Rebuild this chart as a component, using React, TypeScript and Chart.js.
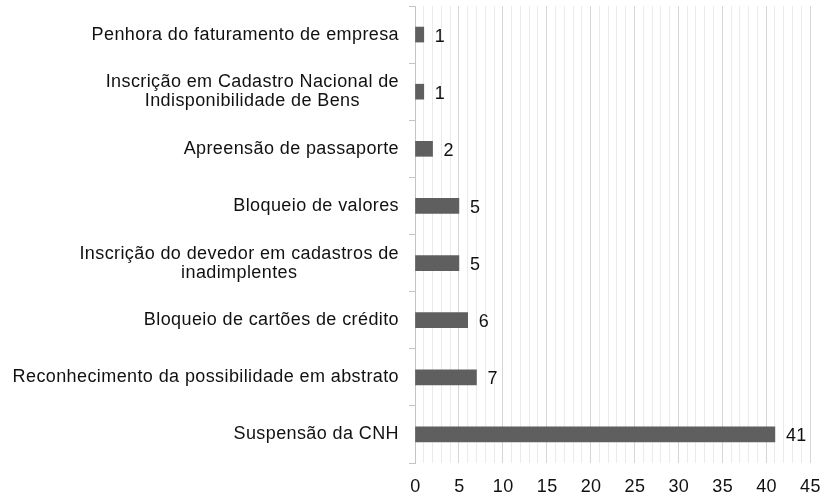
import React, { useEffect, useRef } from 'react';
import { Chart, registerables } from 'chart.js';

Chart.register(...registerables);

const categories: (string | string[])[] = [
  'Penhora do faturamento de empresa',
  ['Inscrição em Cadastro Nacional de', 'Indisponibilidade de Bens'],
  'Apreensão de passaporte',
  'Bloqueio de valores',
  ['Inscrição do devedor em cadastros de', 'inadimplentes'],
  'Bloqueio de cartões de crédito',
  'Reconhecimento da possibilidade em abstrato',
  'Suspensão da CNH',
];
const values = [1, 1, 2, 5, 5, 6, 7, 41];
const axisMin = 0;
const axisMax = 45;
const minorStep = 1;
const majorStep = 5;
const tickLabels = ['0', '5', '10', '15', '20', '25', '30', '35', '40', '45'];

const FONT_FAMILY = "'Liberation Sans', Arial, sans-serif";
const FONT_SIZE = 18;
const LETTER_SPACING = '0.4px';
const TEXT_COLOR = '#111111';
const BAR_COLOR = '#5f5f5f';
const AXIS_COLOR = '#c4c4c4';
const MAJOR_GRID = '#d6d6d6';
const MINOR_GRID = '#ebebeb';

const textPlugin = {
  id: 'customText',
  afterDatasetsDraw(chart: any) {
    const ctx = chart.ctx as CanvasRenderingContext2D;
    const xs = chart.scales.x;
    const ys = chart.scales.y;
    ctx.save();
    (ctx as any).letterSpacing = LETTER_SPACING;
    ctx.font = `${FONT_SIZE}px ${FONT_FAMILY}`;
    ctx.fillStyle = TEXT_COLOR;
    ctx.textBaseline = 'alphabetic';
    const labelRight = chart.chartArea.left - 16;
    const lineH = 19;
    categories.forEach((cat, i) => {
      const cy = ys.getPixelForValue(i);
      const lines = Array.isArray(cat) ? cat : [cat];
      const widths = lines.map((l) => ctx.measureText(l).width);
      const widest = Math.max(...widths);
      const cx = labelRight - widest / 2;
      const startBase = cy + 5 - ((lines.length - 1) * lineH) / 2;
      lines.forEach((l, k) => {
        ctx.textAlign = lines.length > 1 ? 'center' : 'right';
        ctx.fillText(l, lines.length > 1 ? cx : labelRight, startBase + k * lineH);
      });
    });
    ctx.textAlign = 'left';
    values.forEach((v, i) => {
      const cy = ys.getPixelForValue(i);
      const x = xs.getPixelForValue(v);
      ctx.fillText(String(v), x + 11, cy + 7);
    });
    ctx.textAlign = 'center';
    const base = chart.chartArea.bottom + 29;
    tickLabels.forEach((t) => {
      const x = xs.getPixelForValue(Number(t));
      ctx.fillText(t, x + 0.5, base);
    });
    ctx.restore();
  },
};

export default function App() {
  const canvasRef = useRef<HTMLCanvasElement | null>(null);

  useEffect(() => {
    if (!canvasRef.current) return;
    const chart = new Chart(canvasRef.current, {
      type: 'bar',
      data: {
        labels: categories as any,
        datasets: [
          {
            data: values,
            backgroundColor: BAR_COLOR,
            borderWidth: 0,
            barThickness: 15,
          },
        ],
      },
      options: {
        indexAxis: 'y',
        animation: false,
        responsive: true,
        maintainAspectRatio: false,
        layout: { padding: { top: 6, right: 14, left: 0, bottom: 0 } },
        plugins: {
          legend: { display: false },
          tooltip: { enabled: false },
        },
        scales: {
          x: {
            type: 'linear',
            min: axisMin,
            max: axisMax,
            border: { display: false },
            grid: {
              drawTicks: false,
              color: (c: any) =>
                c.tick && c.tick.value % majorStep === 0 ? MAJOR_GRID : MINOR_GRID,
              lineWidth: 1,
            },
            ticks: {
              stepSize: minorStep,
              autoSkip: false,
              maxRotation: 0,
              padding: 0,
              display: false,
            },
            afterFit: (s: any) => {
              s.height = 33;
            },
          },
          y: {
            type: 'category',
            border: { display: true, color: AXIS_COLOR, width: 1 },
            grid: {
              display: true,
              offset: true,
              drawOnChartArea: false,
              drawTicks: true,
              tickLength: 6,
              color: AXIS_COLOR,
            },
            ticks: { display: false },
            afterFit: (s: any) => {
              s.width = 415;
            },
          },
        },
      },
      plugins: [textPlugin],
    });
    return () => chart.destroy();
  }, []);

  return (
    <div style={{ position: 'absolute', left: 0, top: 0, width: 824, height: 496, background: '#fff' }}>
      <canvas ref={canvasRef} />
    </div>
  );
}
